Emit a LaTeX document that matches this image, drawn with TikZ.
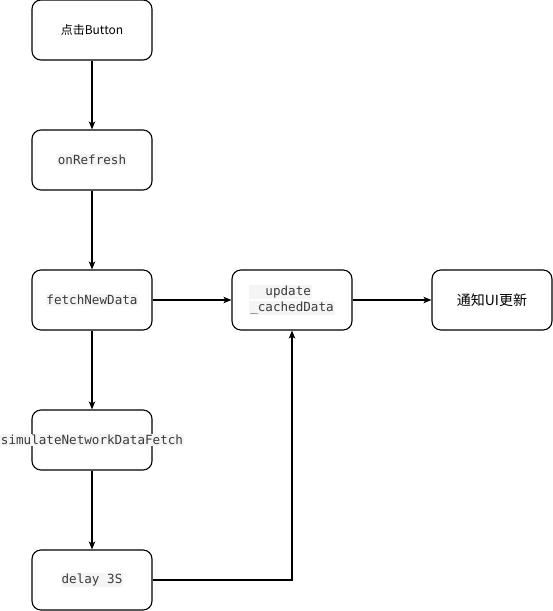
\documentclass[tikz,border=0pt]{standalone}
\usepackage{fontspec}
\setmonofont{DejaVu Sans Mono}
\newfontfamily\cjk{Noto Sans CJK SC}
\usetikzlibrary{arrows.meta}

\definecolor{codetext}{HTML}{3A3A3A}
\definecolor{codebg}{HTML}{F5F5F5}
% code label with light background
\newcommand{\code}[1]{{\setlength{\fboxsep}{0.8pt}\colorbox{codebg}{\ttfamily\fontsize{12.6}{16}\selectfont\color{codetext}#1}}}

\begin{document}
\begin{tikzpicture}[x=1pt, y=-1pt,
	stepbox/.style={draw, rounded corners=9pt, line width=1.1pt, minimum width=120pt, minimum height=60pt, inner sep=0pt},
	flow/.style={-{Stealth[length=8pt, width=6.5pt, inset=2pt]}, line width=1.1pt}]
	\useasboundingbox (0,0) rectangle (553,611);
	\def\xcol{92}  % Column of the main steps
	\def\yrow{300} % Row of the update steps
	
	% Main column
	\node[stepbox] (click) at (\xcol,30) {\cjk\fontsize{12}{14}\selectfont 点击Button};
	\node[stepbox] (refresh) at (\xcol,160) {\code{onRefresh}};
	\node[stepbox] (fetch) at (\xcol,\yrow) {\code{fetchNewData}};
	\node[stepbox] (simulate) at (\xcol,440) {\makebox[0pt]{\code{simulateNetworkDataFetch}}};
	\node[stepbox] (delay) at (\xcol,580) {\code{delay 3S}};
	
	% Right row
	\node[stepbox, align=left, font=\fontsize{12.6}{16}\selectfont] (update) at (292,\yrow)
		{\code{\ \ update}\\\code{\_cachedData}};
	\node[stepbox] (notify) at (492,\yrow) {\cjk\fontsize{14}{16}\selectfont 通知UI更新};
	
	\draw[flow] (click) -- (refresh);
	\draw[flow] (refresh) -- (fetch);
	\draw[flow] (fetch) -- (simulate);
	\draw[flow] (simulate) -- (delay);
	\draw[flow] (fetch) -- (update);
	\draw[flow] (update) -- (notify);
	\draw[flow] (delay) -| (update);
\end{tikzpicture}
\end{document}
